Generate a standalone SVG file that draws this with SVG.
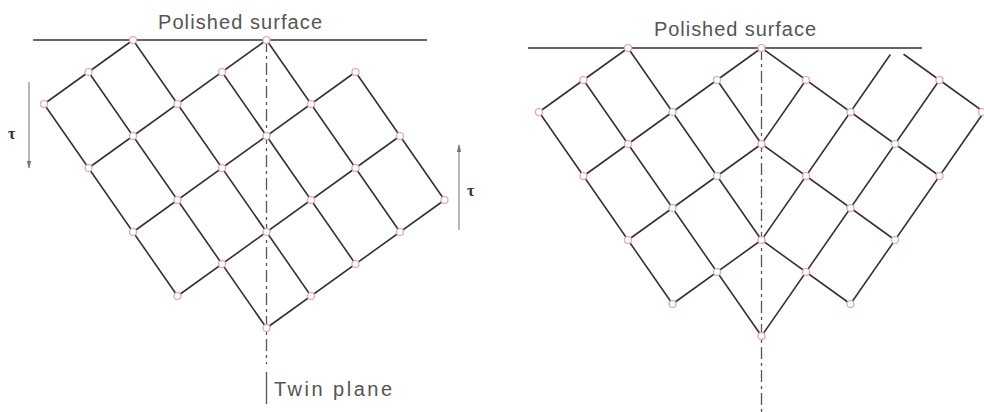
<svg xmlns="http://www.w3.org/2000/svg" width="984" height="412" viewBox="0 0 984 412">
<defs>
<style>
.ln{stroke:#333;stroke-width:1.6;fill:none;stroke-linecap:round}
.sf{stroke:#333;stroke-width:1.7}
.tw{stroke:#555;stroke-width:1.3;stroke-dasharray:12 4 3 4}
.tws{stroke:#555;stroke-width:1.3}
.ar{stroke:#888;stroke-width:1.2}
.nd{fill:#fff;stroke:#e2a2b0;stroke-width:1.2}
.lb{font-family:"Liberation Sans",Arial,sans-serif;font-size:20px;fill:#555}
.tau{font-family:"Liberation Serif","DejaVu Serif",serif;font-size:16px;font-weight:bold;fill:#333}
</style>
<marker id="ah" markerWidth="8" markerHeight="6" refX="7" refY="3" orient="auto" markerUnits="userSpaceOnUse">
<path d="M0,0.8 L8,3 L0,5.2 Z" fill="#777"/>
</marker>
</defs>
<rect width="984" height="412" fill="#fff"/>

<!-- LEFT FIGURE -->
<g id="left-surface">
<line class="sf" x1="33" y1="40" x2="427" y2="40"/>
<text class="lb" x="158" y="29" textLength="164" lengthAdjust="spacing">Polished surface</text>
</g>
<g id="left-twin-plane">
<line class="tw" x1="266.5" y1="40" x2="266.5" y2="364"/>
<line class="tws" x1="266.5" y1="372" x2="266.5" y2="404"/>
<text class="lb" x="274" y="396" textLength="118" lengthAdjust="spacing">Twin plane</text>
</g>
<g id="left-shear-down">
<line class="ar" x1="29" y1="82" x2="29" y2="168" marker-end="url(#ah)"/>
<text class="tau" x="8" y="139">τ</text>
</g>
<g id="left-shear-up">
<line class="ar" x1="459" y1="230" x2="459" y2="145" marker-end="url(#ah)"/>
<text class="tau" x="467" y="196">τ</text>
</g>
<g id="left-lattice-connectors">
<polyline class="ln" points="44,104 177.5,296"/>
<polyline class="ln" points="88.5,72 266.5,328"/>
<polyline class="ln" points="133,40 311,296"/>
<polyline class="ln" points="222,72 355.5,264"/>
<polyline class="ln" points="266.5,40 400,232"/>
<polyline class="ln" points="355.5,72 444.5,200"/>
<polyline class="ln" points="44,104 133,40"/>
<polyline class="ln" points="88.5,168 266.5,40"/>
<polyline class="ln" points="133,232 355.5,72"/>
<polyline class="ln" points="177.5,296 400,136"/>
<polyline class="ln" points="266.5,328 444.5,200"/>
</g>
<g id="left-lattice-nodes">
<circle class="nd" cx="44" cy="104" r="3.5"/>
<circle class="nd" cx="88.5" cy="72" r="3.5"/>
<circle class="nd" cx="133" cy="40" r="3.5"/>
<circle class="nd" cx="88.5" cy="168" r="3.5"/>
<circle class="nd" cx="133" cy="136" r="3.5"/>
<circle class="nd" cx="177.5" cy="104" r="3.5"/>
<circle class="nd" cx="222" cy="72" r="3.5"/>
<circle class="nd" cx="266.5" cy="40" r="3.5"/>
<circle class="nd" cx="133" cy="232" r="3.5"/>
<circle class="nd" cx="177.5" cy="200" r="3.5"/>
<circle class="nd" cx="222" cy="168" r="3.5"/>
<circle class="nd" cx="266.5" cy="136" r="3.5"/>
<circle class="nd" cx="311" cy="104" r="3.5"/>
<circle class="nd" cx="355.5" cy="72" r="3.5"/>
<circle class="nd" cx="177.5" cy="296" r="3.5"/>
<circle class="nd" cx="222" cy="264" r="3.5"/>
<circle class="nd" cx="266.5" cy="232" r="3.5"/>
<circle class="nd" cx="311" cy="200" r="3.5"/>
<circle class="nd" cx="355.5" cy="168" r="3.5"/>
<circle class="nd" cx="400" cy="136" r="3.5"/>
<circle class="nd" cx="266.5" cy="328" r="3.5"/>
<circle class="nd" cx="311" cy="296" r="3.5"/>
<circle class="nd" cx="355.5" cy="264" r="3.5"/>
<circle class="nd" cx="400" cy="232" r="3.5"/>
<circle class="nd" cx="444.5" cy="200" r="3.5"/>
</g>

<!-- RIGHT FIGURE -->
<g id="right-surface">
<line class="sf" x1="528" y1="48" x2="922" y2="48"/>
<text class="lb" x="654" y="36" textLength="162" lengthAdjust="spacing">Polished surface</text>
</g>
<g id="right-twin-plane">
<line class="tw" x1="761.5" y1="48" x2="761.5" y2="412"/>
</g>
<g id="right-lattice-connectors">
<polyline class="ln" points="539,112 672.5,304"/>
<polyline class="ln" points="583.5,80 761.5,336"/>
<polyline class="ln" points="628,48 761.5,240"/>
<polyline class="ln" points="717,80 761.5,144"/>
<polyline class="ln" points="539,112 628,48"/>
<polyline class="ln" points="583.5,176 761.5,48"/>
<polyline class="ln" points="628,240 761.5,144"/>
<polyline class="ln" points="672.5,304 761.5,240"/>
<polyline class="ln" points="984,112 850.5,304"/>
<polyline class="ln" points="939.5,80 761.5,336"/>
<polyline class="ln" points="890,55 761.5,240"/>
<polyline class="ln" points="806,80 761.5,144"/>
<polyline class="ln" points="984,112 904,54.5"/>
<polyline class="ln" points="939.5,176 761.5,48"/>
<polyline class="ln" points="895,240 761.5,144"/>
<polyline class="ln" points="850.5,304 761.5,240"/>
</g>
<g id="right-lattice-nodes">
<circle class="nd" cx="539" cy="112" r="3.5"/>
<circle class="nd" cx="583.5" cy="80" r="3.5"/>
<circle class="nd" cx="628" cy="48" r="3.5"/>
<circle class="nd" cx="583.5" cy="176" r="3.5"/>
<circle class="nd" cx="628" cy="144" r="3.5"/>
<circle class="nd" cx="672.5" cy="112" r="3.5"/>
<circle class="nd" cx="717" cy="80" r="3.5"/>
<circle class="nd" cx="761.5" cy="48" r="3.5"/>
<circle class="nd" cx="628" cy="240" r="3.5"/>
<circle class="nd" cx="672.5" cy="208" r="3.5"/>
<circle class="nd" cx="717" cy="176" r="3.5"/>
<circle class="nd" cx="761.5" cy="144" r="3.5"/>
<circle class="nd" cx="672.5" cy="304" r="3.5"/>
<circle class="nd" cx="717" cy="272" r="3.5"/>
<circle class="nd" cx="761.5" cy="240" r="3.5"/>
<circle class="nd" cx="761.5" cy="336" r="3.5"/>
<circle class="nd" cx="982" cy="112" r="3.5"/>
<circle class="nd" cx="939.5" cy="80" r="3.5"/>
<circle class="nd" cx="939.5" cy="176" r="3.5"/>
<circle class="nd" cx="895" cy="144" r="3.5"/>
<circle class="nd" cx="850.5" cy="112" r="3.5"/>
<circle class="nd" cx="806" cy="80" r="3.5"/>
<circle class="nd" cx="895" cy="240" r="3.5"/>
<circle class="nd" cx="850.5" cy="208" r="3.5"/>
<circle class="nd" cx="806" cy="176" r="3.5"/>
<circle class="nd" cx="850.5" cy="304" r="3.5"/>
<circle class="nd" cx="806" cy="272" r="3.5"/>
</g>
</svg>
